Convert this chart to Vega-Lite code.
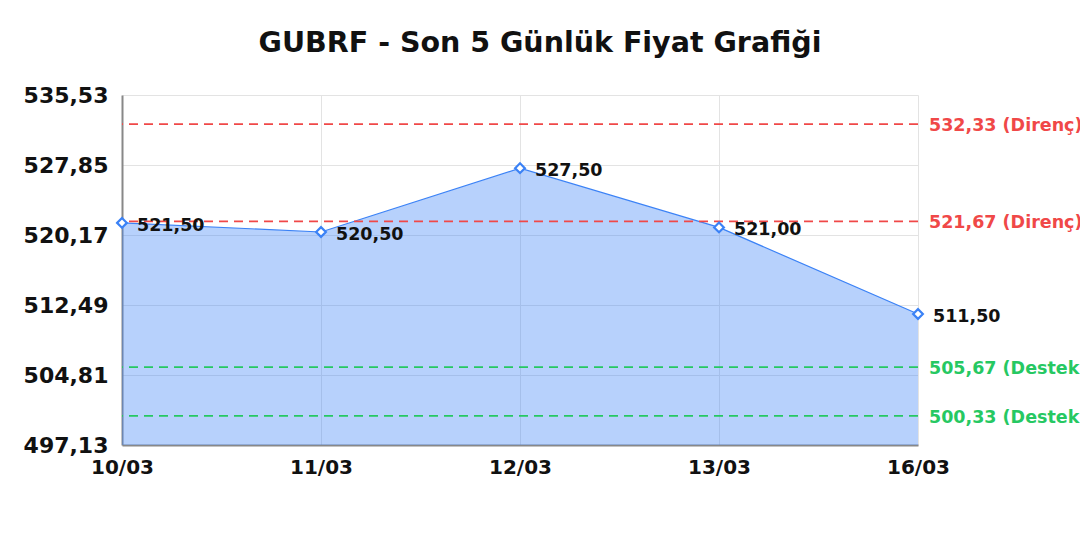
{
  "$schema": "https://vega.github.io/schema/vega-lite/v6.json",
  "width": 796,
  "height": 350,
  "autosize": {"type": "none"},
  "padding": {"left": 122, "top": 95, "right": 162, "bottom": 95},
  "background": "white",
  "title": {
    "text": "GUBRF - Son 5 Günlük Fiyat Grafiği",
    "font": "DejaVu Sans",
    "fontSize": 28.5,
    "fontWeight": "bold",
    "color": "#111111",
    "anchor": "middle",
    "dx": 20,
    "offset": 27
  },
  "config": {
    "locale": {
      "number": {"decimal": ",", "thousands": ".", "grouping": [3], "currency": ["", " ₺"]}
    },
    "view": {"stroke": null},
    "font": "DejaVu Sans"
  },
  "datasets": {
    "prices": [
      {"date": "10/03", "close": 521.5},
      {"date": "11/03", "close": 520.5},
      {"date": "12/03", "close": 527.5},
      {"date": "13/03", "close": 521.0},
      {"date": "16/03", "close": 511.5}
    ],
    "levels": [
      {"level": 532.33, "kind": "Direnç", "label": "532,33 (Direnç)"},
      {"level": 521.67, "kind": "Direnç", "label": "521,67 (Direnç)"},
      {"level": 505.67, "kind": "Destek", "label": "505,67 (Destek)"},
      {"level": 500.33, "kind": "Destek", "label": "500,33 (Destek)"}
    ]
  },
  "layer": [
    {
      "data": {"name": "prices"},
      "mark": {"type": "area", "color": "#3b82f6", "opacity": 0.37, "clip": true},
      "encoding": {
        "x": {
          "field": "date",
          "type": "ordinal",
          "sort": null,
          "scale": {"type": "point", "padding": 0},
          "axis": {
            "title": null,
            "labelAngle": 0,
            "labelFont": "DejaVu Sans",
            "labelFontSize": 20,
            "labelFontWeight": "bold",
            "labelColor": "#111111",
            "labelPadding": 12,
            "ticks": false,
            "domainColor": "#888888",
            "domainWidth": 2,
            "grid": true,
            "gridColor": "#e3e3e3"
          }
        },
        "y": {
          "field": "close",
          "type": "quantitative",
          "scale": {"domain": [497.13, 535.53], "zero": false, "nice": false},
          "axis": {
            "title": null,
            "values": [497.13, 504.81, 512.49, 520.17, 527.85, 535.53],
            "format": ".2f",
            "labelFont": "DejaVu Sans",
            "labelFontSize": 22,
            "labelFontWeight": "bold",
            "labelColor": "#111111",
            "labelPadding": 14,
            "ticks": false,
            "domainColor": "#888888",
            "domainWidth": 2,
            "grid": true,
            "gridColor": "#e3e3e3"
          }
        }
      }
    },
    {
      "data": {"name": "prices"},
      "mark": {"type": "line", "color": "#3b82f6", "strokeWidth": 1.2},
      "encoding": {
        "x": {"field": "date", "type": "ordinal", "sort": null},
        "y": {"field": "close", "type": "quantitative"}
      }
    },
    {
      "data": {"name": "levels"},
      "mark": {"type": "rule", "strokeDash": [9, 6], "strokeWidth": 1.6},
      "encoding": {
        "y": {"field": "level", "type": "quantitative"},
        "color": {
          "field": "kind",
          "type": "nominal",
          "scale": {"domain": ["Direnç", "Destek"], "range": ["#f04848", "#26c862"]},
          "legend": null
        }
      }
    },
    {
      "data": {"name": "levels"},
      "mark": {"type": "text", "align": "left", "baseline": "middle", "dx": 11, "dy": 2, "fontSize": 17.5, "fontWeight": "bold", "font": "DejaVu Sans"},
      "encoding": {
        "x": {"datum": "16/03", "type": "ordinal"},
        "y": {"field": "level", "type": "quantitative"},
        "text": {"field": "label"},
        "color": {"field": "kind", "type": "nominal", "legend": null}
      }
    },
    {
      "data": {"name": "prices"},
      "mark": {"type": "point", "shape": "diamond", "filled": true, "fill": "white", "stroke": "#3b82f6", "strokeWidth": 2.2, "size": 95, "opacity": 1},
      "encoding": {
        "x": {"field": "date", "type": "ordinal", "sort": null},
        "y": {"field": "close", "type": "quantitative"}
      }
    },
    {
      "data": {"name": "prices"},
      "mark": {"type": "text", "align": "left", "baseline": "middle", "dx": 15, "dy": 3, "fontSize": 17.5, "fontWeight": "bold", "font": "DejaVu Sans", "color": "#111111"},
      "encoding": {
        "x": {"field": "date", "type": "ordinal", "sort": null},
        "y": {"field": "close", "type": "quantitative"},
        "text": {"field": "close", "type": "quantitative", "format": ".2f"}
      }
    }
  ]
}
